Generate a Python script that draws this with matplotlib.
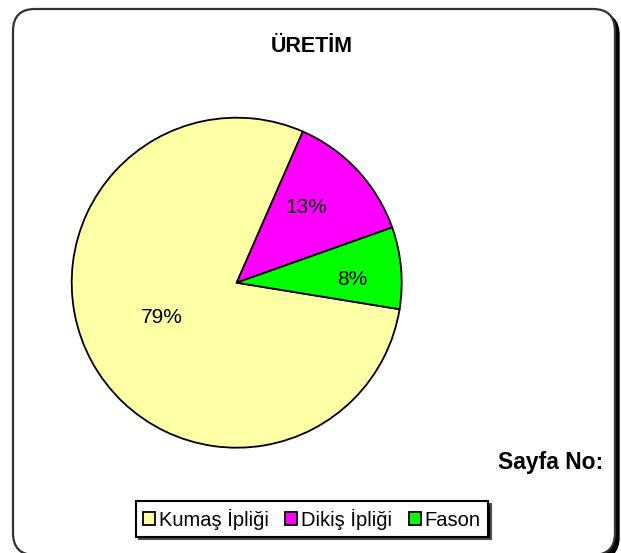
import numpy as np
import matplotlib
matplotlib.use("Agg")
import matplotlib.pyplot as plt
from matplotlib.patches import FancyBboxPatch

# ---- data ----
categories = ["Kumaş İpliği", "Dikiş İpliği", "Fason"]
values = [79, 13, 8]
pct_labels = ["79%", "13%", "8%"]
colors = ["#FFFFA6", "#FF00FF", "#00FF00"]
title = "ÜRETİM"
page_text = "Sayfa No:"

W, H = 621, 553
fig = plt.figure(figsize=(W / 100, H / 100), dpi=100)
fig.patch.set_facecolor("white")

# background axes in pixel units for the rounded frame
bg = fig.add_axes([0, 0, 1, 1], zorder=0)
bg.set_xlim(0, W)
bg.set_ylim(H, 0)
bg.axis("off")
shadow = FancyBboxPatch((17, 13), 602, 546, boxstyle="round,pad=0,rounding_size=22",
                        facecolor="black", edgecolor="black", lw=1)
frame = FancyBboxPatch((13, 9), 602, 546, boxstyle="round,pad=0,rounding_size=22",
                       facecolor="white", edgecolor="#333333", lw=1.6)
bg.add_patch(shadow)
bg.add_patch(frame)

bg.text(312, 47, title, ha="center", va="center", fontsize=15.5,
        fontweight="bold", family="Liberation Sans")
bg.text(603, 462, page_text, ha="right", va="center", fontsize=16.5,
        fontweight="bold", family="Liberation Sans")

# pie axes: center (236.7, 282.7) px, radius 165 px
cx, cy, r = 236.7, 282.7, 165
ax = fig.add_axes([(cx - r) / W, (H - cy - r) / H, 2 * r / W, 2 * r / H], zorder=1)
wedges, _ = ax.pie(values, colors=colors, startangle=-9.25, counterclock=False,
                   wedgeprops=dict(edgecolor="black", linewidth=1.3))
ax.set_xlim(-1, 1)
ax.set_ylim(-1, 1)
ax.set_aspect("equal")
ax.axis("off")

label_dist = [0.50, 0.62, 0.70]
label_shift = [-3.4, 4.3, -3.7]
for w, lab, d, s in zip(wedges, pct_labels, label_dist, label_shift):
    ang = np.deg2rad((w.theta1 + w.theta2) / 2 + s)
    ax.text(d * np.cos(ang), d * np.sin(ang), lab, ha="center", va="center",
            fontsize=15, family="Liberation Sans")

leg = fig.legend(wedges, categories, loc="center", bbox_to_anchor=(312 / W, 1 - 519 / H),
                 ncol=3, frameon=True, fancybox=False, framealpha=1,
                 edgecolor="black", prop={"family": "Liberation Sans", "size": 14.5},
                 handlelength=0.6, handleheight=0.6, handletextpad=0.2,
                 columnspacing=0.8, borderpad=0.35, borderaxespad=0.3,
                 shadow={"facecolor": "black", "alpha": 1})
leg.get_frame().set_linewidth(1.5)

fig.savefig("out.png", dpi=100, facecolor="white")
